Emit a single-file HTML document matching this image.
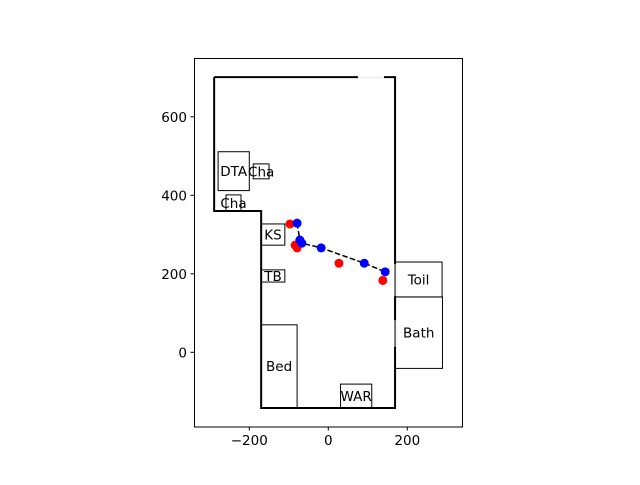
<!DOCTYPE html>
<html><head><meta charset="utf-8"><style>
body{margin:0;background:#fff}
svg text{font-family:"DejaVu Sans","Liberation Sans",sans-serif;font-size:13.5px;fill:#000}
</style></head><body>
<svg id="chart" width="640" height="480" viewBox="0 0 640 480">
<rect width="640" height="480" fill="#fff"/>
<g id="g"></g>
</svg>
<script>
const xTicks=[-200,0,200];
const yTicks=[0,200,400,600];
const wallX=[-289,169,169,-170,-170,-289,-289];
const wallY=[701,701,-142,-142,360,360,701];
const boxNames=["DTA","Cha","Cha","KS","TB","Bed","WAR","Toil","Bath"];
const boxX0=[-279,-190,-259,-170,-170,-170,31,169,169];
const boxX1=[-200,-150,-221,-110,-110,-79,110,288,289];
const boxY0=[412,442,360,273,179,-141,-142,141,-41];
const boxY1=[511,480,401,327,210,70,-81,230,141];
const redX=[-97,-84,-79,27,138];
const redY=[327,273,266,227,183];
const blueX=[-79,-72,-67,-18,91,144];
const blueY=[329,286,278,266,227,205];
const X=v=>328.3+0.395*v, Y=v=>352.3-0.3925*v;
const NS="http://www.w3.org/2000/svg", g=document.getElementById('g');
function mk(t,a){const e=document.createElementNS(NS,t);for(const k in a)e.setAttribute(k,a[k]);g.appendChild(e);return e;}
// axes frame
let f=mk('rect',{x:194.5,y:58.5,width:268,height:368.5,fill:'none',stroke:'#000','stroke-width':1});


xTicks.forEach(v=>{
 let l=mk('line',{x1:X(v),x2:X(v),y1:427,y2:430.5,stroke:'#000'});
 
 
 let t=mk('text',{x:X(v),y:445,'text-anchor':'middle'});t.textContent=v<0?'\u2212'+(-v):v;
 
 
});
yTicks.forEach(v=>{
 let l=mk('line',{x1:190.5,x2:194.5,y1:Y(v),y2:Y(v),stroke:'#000'});
 
 
 let t=mk('text',{x:187,y:Y(v)+5,'text-anchor':'end'});t.textContent=v;
 
 
});
// walls
let pts=wallX.map((x,i)=>X(x)+','+Y(wallY[i])).join(' ');
let w=mk('polyline',{points:pts,fill:'none',stroke:'#000','stroke-width':2});


// doors
[[X(75),Y(701),X(141),Y(701)],[X(169),Y(225),X(169),Y(143)],[X(169),Y(82),X(169),Y(14)]].forEach(d=>{
 let l=mk('line',{x1:d[0],y1:d[1],x2:d[2],y2:d[3],stroke:'#f4f4f4','stroke-width':2.5});
 
 
});
// boxes
boxNames.forEach((n,i)=>{
 let r=mk('rect',{x:X(boxX0[i]),y:Y(boxY1[i]),width:X(boxX1[i])-X(boxX0[i]),height:Y(boxY0[i])-Y(boxY1[i]),fill:'none',stroke:'#000','stroke-width':1});
 
 
 let t=mk('text',{x:(X(boxX0[i])+X(boxX1[i]))/2,y:(Y(boxY0[i])+Y(boxY1[i]))/2+5,'text-anchor':'middle'});t.textContent=n;
 
 
});
// path
let pl=mk('polyline',{points:blueX.map((x,i)=>X(x)+','+Y(blueY[i])).join(' '),fill:'none',stroke:'#000','stroke-width':1.5,'stroke-dasharray':'5.5,2.4'});


redX.forEach((x,i)=>{
 let c=mk('circle',{cx:X(x),cy:Y(redY[i]),r:4.5,fill:'#ff0000'});
 
 
});
blueX.forEach((x,i)=>{
 let c=mk('circle',{cx:X(x),cy:Y(blueY[i]),r:4.5,fill:'#0000ff'});
 
 
});
</script>
</body></html>
